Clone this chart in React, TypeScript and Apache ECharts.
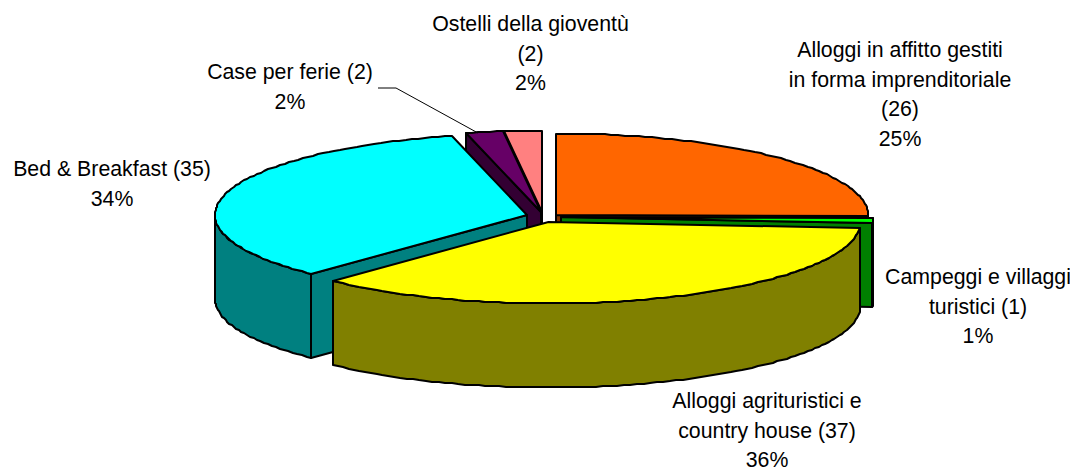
import React, { useEffect, useRef } from "react";
import * as echarts from "echarts";

const categories = [
  "Alloggi in affitto gestiti in forma imprenditoriale",
  "Campeggi e villaggi turistici",
  "Alloggi agrituristici e country house",
  "Bed & Breakfast",
  "Case per ferie",
  "Ostelli della gioventù",
];
const values = [26, 1, 37, 35, 2, 2];
const topColors = ["#FF6600", "#00FF00", "#FFFF00", "#00FFFF", "#660066", "#FF8080"];
const wallColors = ["#803300", "#008000", "#808000", "#008080", "#330033", "#804040"];
// slice apex positions (exploded pie) and the painter's order
const apexes = [[556, 215], [561, 217], [548.5, 222], [527, 215], [541, 212], [542, 212]];
const drawOrder = [5, 4, 0, 1, 3, 2];
const RX = 312;
const RY = 81.5;
const DEPTH = 84;

const labelLines = [
  ["Alloggi in affitto gestiti", "in forma imprenditoriale", "(26)", "25%"],
  ["Campeggi e villaggi", "turistici (1)", "1%"],
  ["Alloggi agrituristici e", "country house (37)", "36%"],
  ["Bed & Breakfast (35)", "34%"],
  ["Case per ferie (2)", "2%"],
  ["Ostelli della gioventù", "(2)", "2%"],
];
const labelCenters = [[900, 35], [978, 262], [767, 386], [112, 154], [290, 57], [530.5, 9]];
const FONT = "'Liberation Sans', Arial, sans-serif";
const FONT_SIZE = 21.3;
const LINE_H = 29.7;

const total = values.reduce((a, b) => a + b, 0);
const cumulative: number[] = [];
values.reduce((acc, v, i) => {
  cumulative[i] = acc;
  return acc + v;
}, 0);

function pt(apex: number[], t: number, dy = 0) {
  return [
    Math.round(apex[0] + RX * Math.sin(t)),
    Math.round(apex[1] - RY * Math.cos(t) + dy),
  ];
}
function arc(apex: number[], s: number, e: number, dy = 0) {
  const n = Math.max(2, Math.ceil((Math.abs(e - s) * RX) / 7));
  const out: number[][] = [];
  for (let i = 0; i <= n; i++) out.push(pt(apex, s + ((e - s) * i) / n, dy));
  return out;
}

function renderSlice(params: any) {
  const idx = drawOrder[params.dataIndex];
  const s = (cumulative[idx] / total) * Math.PI * 2;
  const e = ((cumulative[idx] + values[idx]) / total) * Math.PI * 2;
  const apex = apexes[idx];
  const lineStyle = { stroke: "#000", lineWidth: 2, lineJoin: "round" };
  const children: any[] = [];
  const poly = (points: number[][], fill: string) =>
    children.push({ type: "polygon", shape: { points }, style: { fill, ...lineStyle } });
  const radialWall = (a: number) =>
    poly([apex, pt(apex, a), pt(apex, a, DEPTH), [apex[0], apex[1] + DEPTH]], wallColors[idx]);
  if (Math.sin(s) < -1e-6) radialWall(s);
  if (Math.sin(e) > 1e-6) radialWall(e);
  const fs = Math.max(s, Math.PI / 2);
  const fe = Math.min(e, (Math.PI * 3) / 2);
  if (fe > fs) {
    poly([...arc(apex, fs, fe), ...arc(apex, fe, fs, DEPTH)], wallColors[idx]);
  }
  poly([apex, ...arc(apex, s, e)], topColors[idx]);
  return { type: "group", children };
}

export default function App() {
  const ref = useRef<HTMLDivElement>(null);
  useEffect(() => {
    document.body.style.margin = "0";
    document.body.style.background = "#fff";
    const chart = echarts.init(ref.current!, null, { renderer: "svg" });
    chart.setOption({
      animation: false,
      backgroundColor: "#ffffff",
      series: [
        {
          type: "custom",
          coordinateSystem: "none",
          silent: true,
          renderItem: renderSlice,
          data: drawOrder.map((i) => ({ name: categories[i], value: values[i] })),
        },
      ],
      graphic: [
        {
          type: "polyline",
          z: 100,
          shape: { points: [[378, 88], [396, 88], [478, 133]] },
          style: { fill: "none", stroke: "#000", lineWidth: 1 },
        },
        ...labelLines.map((lines, i) => ({
          type: "text",
          z: 101,
          x: labelCenters[i][0],
          y: labelCenters[i][1],
          style: {
            text: lines.join("\n"),
            font: `${FONT_SIZE}px ${FONT}`,
            lineHeight: LINE_H,
            fill: "#000",
            align: "center",
            verticalAlign: "top",
          },
        })),
      ],
    });
    return () => chart.dispose();
  }, []);
  return <div ref={ref} style={{ width: 1070, height: 471 }} />;
}
